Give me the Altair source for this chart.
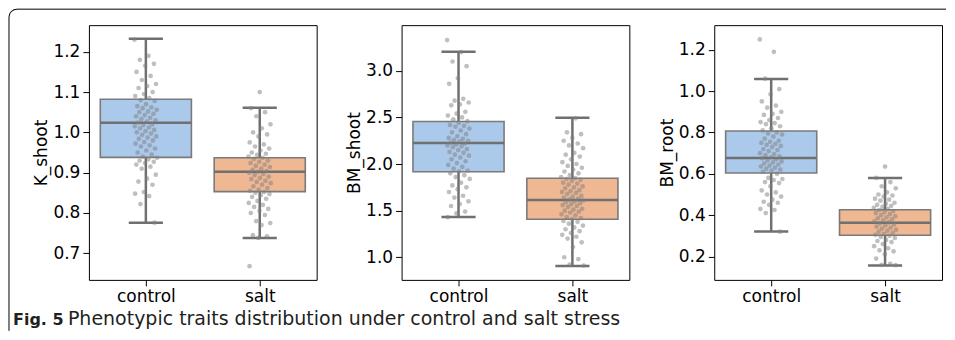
import altair as alt
import pandas as pd

groups = ["control", "salt"]
traits = ["K_shoot", "BM_shoot", "BM_root"]
caption_bold = "Fig. 5"
caption_text = "Phenotypic traits distribution under control and salt stress"

k_shoot_control = [1.23, 1.19, 1.18, 1.17, 1.165, 1.15, 1.14, 1.13, 1.12, 1.115, 1.11, 1.10, 1.095, 1.09,
                   1.085, 1.08, 1.078, 1.07, 1.065, 1.062, 1.06, 1.056, 1.052, 1.05, 1.046, 1.043, 1.04,
                   1.036, 1.033, 1.03, 1.027, 1.024, 1.02, 1.018, 1.015, 1.012, 1.01, 1.006, 1.003, 1.0,
                   0.997, 0.994, 0.99, 0.987, 0.984, 0.98, 0.976, 0.972, 0.968, 0.965, 0.96, 0.955, 0.95,
                   0.945, 0.94, 0.937, 0.933, 0.93, 0.927, 0.924, 0.92, 0.915, 0.91, 0.895, 0.885, 0.878,
                   0.87, 0.852, 0.848, 0.842, 0.822, 0.776]
k_shoot_salt = [1.10, 1.06, 1.05, 1.04, 1.02, 1.01, 1.0, 0.995, 0.99, 0.975, 0.97, 0.965, 0.96, 0.955, 0.95,
                0.947, 0.944, 0.94, 0.937, 0.934, 0.93, 0.927, 0.924, 0.92, 0.917, 0.914, 0.91, 0.907,
                0.904, 0.902, 0.9, 0.897, 0.894, 0.89, 0.887, 0.884, 0.88, 0.877, 0.874, 0.87, 0.866,
                0.862, 0.858, 0.855, 0.852, 0.85, 0.847, 0.844, 0.84, 0.835, 0.83, 0.825, 0.82, 0.815,
                0.81, 0.805, 0.8, 0.795, 0.78, 0.775, 0.77, 0.745, 0.742, 0.738, 0.668]
bm_shoot_control = [3.33, 3.2, 3.1, 3.05, 2.92, 2.86, 2.70, 2.68, 2.66, 2.64, 2.63, 2.56, 2.54, 2.52, 2.50,
                    2.48, 2.46, 2.44, 2.42, 2.41, 2.40, 2.38, 2.36, 2.34, 2.32, 2.30, 2.28, 2.27, 2.26,
                    2.25, 2.24, 2.23, 2.22, 2.21, 2.20, 2.19, 2.18, 2.16, 2.15, 2.13, 2.12, 2.10, 2.09,
                    2.07, 2.05, 2.03, 2.01, 1.99, 1.97, 1.95, 1.93, 1.92, 1.90, 1.88, 1.86, 1.84, 1.80,
                    1.77, 1.75, 1.73, 1.70, 1.66, 1.64, 1.60, 1.57, 1.55, 1.49, 1.47, 1.43]
bm_shoot_salt = [2.49, 2.34, 2.32, 2.28, 2.25, 2.22, 2.20, 2.17, 2.12, 2.10, 2.08, 2.05, 2.02, 2.0, 1.98,
                 1.96, 1.94, 1.92, 1.90, 1.88, 1.86, 1.85, 1.84, 1.83, 1.82, 1.80, 1.79, 1.78, 1.76, 1.75,
                 1.74, 1.72, 1.71, 1.70, 1.69, 1.68, 1.66, 1.65, 1.64, 1.63, 1.62, 1.61, 1.60, 1.59,
                 1.58, 1.57, 1.56, 1.55, 1.54, 1.52, 1.51, 1.50, 1.49, 1.48, 1.46, 1.45, 1.43, 1.42,
                 1.41, 1.39, 1.38, 1.36, 1.34, 1.32, 1.30, 1.28, 1.26, 1.24, 1.22, 1.20, 1.16, 1.11,
                 1.0, 0.98, 0.92, 0.91]
bm_root_control = [1.25, 1.19, 1.06, 1.01, 0.985, 0.95, 0.93, 0.92, 0.90, 0.89, 0.885, 0.87, 0.86, 0.85,
                   0.845, 0.84, 0.83, 0.82, 0.81, 0.80, 0.795, 0.79, 0.78, 0.77, 0.76, 0.755, 0.75, 0.745,
                   0.74, 0.735, 0.73, 0.72, 0.715, 0.71, 0.70, 0.695, 0.69, 0.685, 0.68, 0.675, 0.67,
                   0.665, 0.66, 0.655, 0.65, 0.645, 0.64, 0.635, 0.63, 0.625, 0.62, 0.615, 0.61, 0.60,
                   0.58, 0.575, 0.57, 0.56, 0.555, 0.54, 0.52, 0.51, 0.50, 0.49, 0.475, 0.465, 0.46,
                   0.45, 0.43, 0.425, 0.41, 0.32]
bm_root_salt = [0.635, 0.58, 0.56, 0.54, 0.53, 0.51, 0.50, 0.495, 0.49, 0.48, 0.475, 0.47, 0.46, 0.455,
                0.45, 0.445, 0.44, 0.435, 0.43, 0.425, 0.42, 0.415, 0.41, 0.405, 0.40, 0.395, 0.39, 0.385,
                0.38, 0.375, 0.37, 0.365, 0.36, 0.355, 0.35, 0.345, 0.34, 0.335, 0.33, 0.325, 0.32,
                0.315, 0.31, 0.305, 0.30, 0.295, 0.29, 0.28, 0.275, 0.27, 0.26, 0.25, 0.24, 0.23,
                0.225, 0.21, 0.19, 0.165, 0.16, 0.158]

# box statistics: [lower whisker, Q1, median, Q3, upper whisker]
k_shoot_box_control = [0.776, 0.938, 1.024, 1.082, 1.232]
k_shoot_box_salt = [0.738, 0.853, 0.902, 0.937, 1.061]
bm_shoot_box_control = [1.432, 1.917, 2.225, 2.457, 3.204]
bm_shoot_box_salt = [0.907, 1.407, 1.614, 1.847, 2.496]
bm_root_box_control = [0.321, 0.604, 0.677, 0.807, 1.058]
bm_root_box_salt = [0.157, 0.303, 0.363, 0.426, 0.580]

# axis ranges and ticks
k_shoot_domain = [0.634, 1.266]
bm_shoot_domain = [0.757, 3.49]
bm_root_domain = [0.087, 1.319]
k_shoot_ticks = [0.7, 0.8, 0.9, 1.0, 1.1, 1.2]
bm_shoot_ticks = [1.0, 1.5, 2.0, 2.5, 3.0]
bm_root_ticks = [0.2, 0.4, 0.6, 0.8, 1.0, 1.2]

BLUE = "#abc9ea"
ORANGE = "#efb792"
LINE = "#707070"
FONT = "DejaVu Sans"


def panel(ctrl, salt, box_c, box_s, title, domain, ticks, decorate=False):
    pts = pd.DataFrame({
        "group": [groups[0]] * len(ctrl) + [groups[1]] * len(salt),
        "value": ctrl + salt,
    })
    pts["idx"] = (pts["group"] == groups[1]).astype(int)
    pts["i"] = range(len(pts))
    stats = pd.DataFrame([box_c, box_s], columns=["lo", "q1", "med", "q3", "hi"])
    stats["group"] = groups
    stats["idx"] = [0, 1]

    xs = alt.Scale(domain=[-0.5, 1.5], nice=False, zero=False)
    ys = alt.Scale(domain=domain, nice=False, zero=False)
    xaxis = alt.Axis(values=[0, 1], title=None, grid=False, domain=False,
                     labelExpr=f"datum.value == 0 ? '{groups[0]}' : '{groups[1]}'")
    yaxis = alt.Axis(values=ticks, format=".1f", title=title, grid=False, domain=False,
                     minExtent=36, maxExtent=36, titlePadding=2)

    def X(f):
        return alt.X(f, scale=xs, axis=xaxis)

    def Y(f):
        return alt.Y(f, scale=ys, axis=yaxis)

    base = alt.Chart(stats).transform_calculate(
        xl="datum.idx - 0.4", xr="datum.idx + 0.4",
        cl="datum.idx - 0.15", cr="datum.idx + 0.15")

    w_lo = base.mark_rule(color=LINE, strokeWidth=2.5).encode(
        x=X("idx:Q"), y=Y("lo:Q"), y2="q1:Q")
    w_hi = base.mark_rule(color=LINE, strokeWidth=2.5).encode(
        x=X("idx:Q"), y=Y("q3:Q"), y2="hi:Q")
    box = base.mark_bar(stroke="#7a7a7a", strokeWidth=1.6).encode(
        x=X("xl:Q"), x2="xr:Q", y=Y("q1:Q"), y2="q3:Q",
        color=alt.Color("group:N", scale=alt.Scale(domain=groups, range=[BLUE, ORANGE]), legend=None))
    med = base.mark_rule(color=LINE, strokeWidth=2.5).encode(
        x=X("xl:Q"), x2="xr:Q", y=Y("med:Q"))
    cap_lo = base.mark_rule(color=LINE, strokeWidth=2.5).encode(
        x=X("cl:Q"), x2="cr:Q", y=Y("lo:Q"))
    cap_hi = base.mark_rule(color=LINE, strokeWidth=2.5).encode(
        x=X("cl:Q"), x2="cr:Q", y=Y("hi:Q"))
    dots = alt.Chart(pts).transform_calculate(
        jx="datum.idx + ((datum.i * 0.6180339887) % 1 - 0.5) * 0.2"
    ).mark_circle(size=22, color="#808080", opacity=0.5).encode(
        x=X("jx:Q"), y=Y("value:Q"))

    layers = [w_lo, w_hi, box, med, cap_lo, cap_hi, dots]
    if decorate:
        one = pd.DataFrame({"a": [0]})
        top = alt.Chart(one).mark_rule(color="black", strokeWidth=1).encode(
            x=alt.value(-72), x2=alt.value(858), y=alt.value(-16))
        left = alt.Chart(one).mark_rule(color="black", strokeWidth=1).encode(
            x=alt.value(-80), y=alt.value(-8), y2=alt.value(306))
        corner = alt.Chart(one).mark_arc(
            innerRadius=7.5, outerRadius=8.5, theta=4.712389, theta2=6.283185,
            color="black").encode(
            x=alt.value(-72), y=alt.value(-8))
        t1 = alt.Chart(one).mark_text(
            text=caption_bold, font=FONT, fontSize=16, fontWeight="bold",
            align="left", baseline="alphabetic", color="#231f20").encode(
            x=alt.value(-76), y=alt.value(300))
        t2 = alt.Chart(one).mark_text(
            text=caption_text, font=FONT, fontSize=19,
            align="left", baseline="alphabetic", color="#231f20").encode(
            x=alt.value(-21), y=alt.value(300))
        layers += [top, left, corner, t1, t2]
    return alt.layer(*layers).properties(width=228, height=255)


p1 = panel(k_shoot_control, k_shoot_salt, k_shoot_box_control, k_shoot_box_salt,
           traits[0], k_shoot_domain, k_shoot_ticks, decorate=True)
p2 = panel(bm_shoot_control, bm_shoot_salt, bm_shoot_box_control, bm_shoot_box_salt,
           traits[1], bm_shoot_domain, bm_shoot_ticks)
p3 = panel(bm_root_control, bm_root_salt, bm_root_box_control, bm_root_box_salt,
           traits[2], bm_root_domain, bm_root_ticks)

chart = alt.hconcat(p1, p2, p3, spacing=85, bounds="flush").properties(
    padding={"left": 0, "top": 0, "right": 0, "bottom": 0}
).configure_view(
    stroke="black", strokeWidth=1
).configure_axis(
    labelFont=FONT, titleFont=FONT, labelFontSize=17, titleFontSize=17,
    titleFontWeight="normal", labelColor="black", titleColor="black",
    tickColor="black", tickSize=6, tickWidth=1, labelPadding=3
).configure_axisX(labelAngle=0)

chart.save("out.html", embed_options={"renderer": "svg", "actions": False})
